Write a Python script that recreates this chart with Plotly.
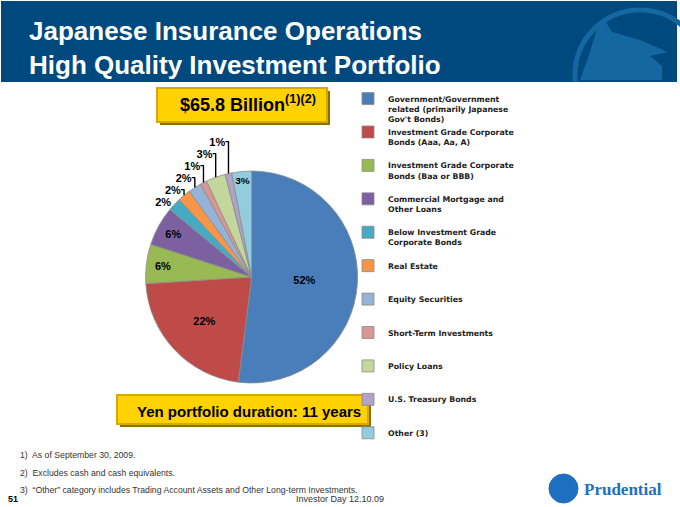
import plotly.graph_objects as go

# Portföljens fördelning (procent)
labels = [
    "Government/Government<br>related (primarily Japanese<br>Gov't Bonds)",
    "Investment Grade Corporate<br>Bonds (Aaa, Aa, A)<br> ",
    "Investment Grade Corporate<br>Bonds (Baa or BBB)<br> ",
    "Commercial Mortgage and<br>Other Loans<br> ",
    "Below Investment Grade<br>Corporate Bonds<br> ",
    "Real Estate<br> <br> ",
    "Equity Securities<br> <br> ",
    "Short-Term Investments<br> <br> ",
    "Policy Loans<br> <br> ",
    "U.S. Treasury Bonds<br> <br> ",
    "Other (3)<br> <br> ",
]
values = [52, 22, 6, 6, 2, 2, 2, 1, 3, 1, 3]
colors = ["#4A7EBB", "#BE4B48", "#98B954", "#7D60A0", "#46AAC5", "#F79646",
          "#95B3D7", "#D99694", "#C3D69B", "#B3A2C7", "#93CDDD"]
text_pos = ["inside", "inside", "inside", "inside", "outside", "outside",
            "outside", "outside", "outside", "outside", "inside"]

footnotes = [
    "1)  As of September 30, 2009.",
    "2)  Excludes cash and cash equivalents.",
    "3)  \u201cOther\u201d category includes Trading Account Assets and Other Long-term Investments.",
]


def px(x):
    return x / 680


def py(y):
    return 1 - y / 507


fig = go.Figure()

fig.add_trace(go.Pie(
    labels=labels,
    values=values,
    sort=False,
    direction="clockwise",
    rotation=0,
    marker=dict(colors=colors, line=dict(color="#8C8C8C", width=0.8)),
    texttemplate="<b>%{percent:.0%}</b>",
    textposition=text_pos,
    textfont=dict(family="Arial", size=11, color="black"),
    insidetextorientation="horizontal",
    domain=dict(x=[0.2, 0.54], y=[0.2446, 0.6627]),
    hoverinfo="skip",
))

# Rubrikband med logga
fig.add_shape(type="rect", xref="paper", yref="paper", x0=px(1), x1=px(677),
              y0=py(82), y1=py(1), fillcolor="#00497F", line=dict(width=0), layer="below")
fig.add_shape(type="circle", xref="paper", yref="paper",
              x0=px(575), x1=px(705), y0=py(140), y1=py(10),
              line=dict(color="#1467A0", width=5), layer="below")
fig.add_shape(type="path", xref="paper", yref="paper", layer="below",
              path="M {} {} L {} {} L {} {} L {} {} L {} {} L {} {} L {} {} L {} {} L {} {} L {} {} Z".format(
                  px(580), py(80), px(590), py(52), px(598), py(25), px(606), py(22),
                  px(612), py(32), px(640), py(40), px(668), py(52), px(650), py(56),
                  px(662), py(66), px(662), py(80)),
              fillcolor="#1467A0", line=dict(width=0))
fig.add_shape(type="rect", xref="paper", yref="paper", x0=0, x1=1,
              y0=-0.01, y1=py(82), fillcolor="white", line=dict(width=0), layer="below")

fig.add_annotation(text="<b>Japanese Insurance Operations<br>High Quality Investment Portfolio</b>",
                   xref="paper", yref="paper", x=px(27), y=py(47.5),
                   xanchor="left", yanchor="middle", align="left", showarrow=False,
                   font=dict(family="Arial", size=26, color="white"))

# Gula rutor
for x0, x1, y0, y1 in [(157, 327, 88, 122), (117, 368, 395, 424)]:
    fig.add_shape(type="rect", xref="paper", yref="paper",
                  x0=px(x0 + 3), x1=px(x1 + 3), y0=py(y1 + 3), y1=py(y0 + 3),
                  fillcolor="#8A7000", line=dict(width=0))
    fig.add_shape(type="rect", xref="paper", yref="paper",
                  x0=px(x0), x1=px(x1), y0=py(y1), y1=py(y0),
                  fillcolor="#FFD200", line=dict(color="#D9A800", width=2))

fig.add_annotation(text="<b>$65.8 Billion<sup>(1)(2)</sup></b>", xref="paper", yref="paper",
                   x=px(248), y=py(104), xanchor="center", yanchor="middle", showarrow=False,
                   font=dict(family="Arial", size=18, color="black"))
fig.add_annotation(text="<b>Yen portfolio duration: 11 years</b>", xref="paper", yref="paper",
                   x=px(249), y=py(411), xanchor="center", yanchor="middle", showarrow=False,
                   font=dict(family="Arial", size=15, color="black"))

# Fotnoter
for i, note in enumerate(footnotes):
    fig.add_annotation(text=note, xref="paper", yref="paper",
                       x=px(18), y=py(455 + 17.5 * i), xanchor="left", yanchor="middle",
                       showarrow=False, font=dict(family="Arial", size=8.7, color="#333333"))

fig.add_annotation(text="<b>51</b>", xref="paper", yref="paper", x=px(6), y=py(499),
                   xanchor="left", yanchor="middle", showarrow=False,
                   font=dict(family="Arial", size=9, color="black"))
fig.add_annotation(text="Investor Day 12.10.09", xref="paper", yref="paper",
                   x=px(340), y=py(499), xanchor="center", yanchor="middle", showarrow=False,
                   font=dict(family="Arial", size=9, color="#333333"))

# Prudential-logga
fig.add_shape(type="circle", xref="paper", yref="paper",
              x0=px(549), x1=px(578), y0=py(503), y1=py(474),
              fillcolor="#1F6FC0", line=dict(color="#1F6FC0", width=1))
fig.add_annotation(text="<b>Prudential</b>", xref="paper", yref="paper",
                   x=px(582), y=py(489), xanchor="left", yanchor="middle", showarrow=False,
                   font=dict(family="Liberation Serif", size=17, color="#1F6FC0"))

fig.update_layout(
    width=680,
    height=507,
    margin=dict(l=0, r=0, t=0, b=0),
    paper_bgcolor="white",
    showlegend=True,
    legend=dict(
        x=px(348), y=py(87), xanchor="left", yanchor="top",
        valign="top", bgcolor="rgba(0,0,0,0)",
        font=dict(family="DejaVu Sans", size=7.8, color="#222222", weight="bold"),
    ),
)

fig.write_html("out.html", config={"displayModeBar": False},
               post_script="document.body.style.margin='0';")
